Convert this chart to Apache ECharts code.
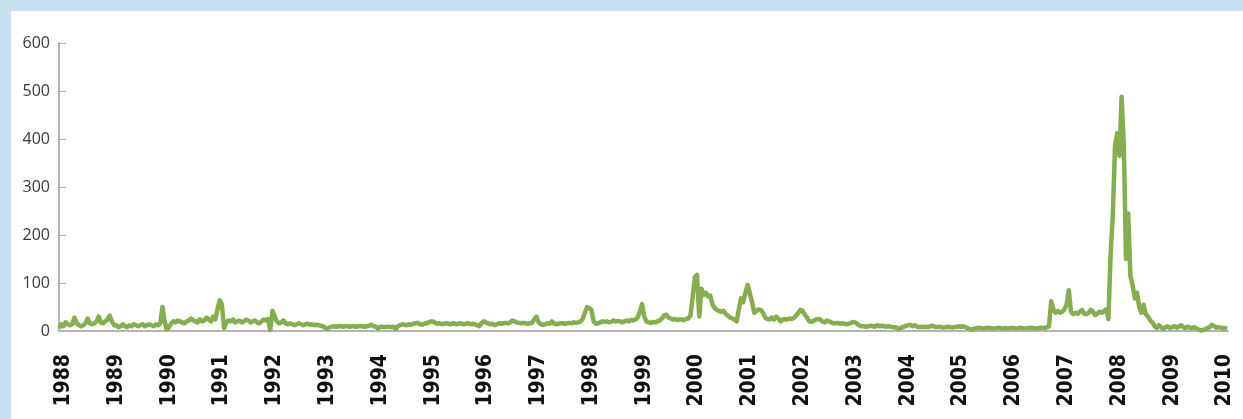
<!DOCTYPE html>
<html>
<head>
<meta charset="utf-8">
<script src="https://cdn.jsdelivr.net/npm/echarts@6/dist/echarts.min.js"></script>
<style>
  html, body { margin: 0; padding: 0; background: #c8e3ef; width: 1243px; height: 419px; overflow: hidden; }
  #chart { position: absolute; left: 11px; top: 11px; width: 1232px; height: 408px; background: #ffffff; }
</style>
</head>
<body>
<div id="chart"></div>
<script>
// semi-monthly readings (24 per year)
var v1987 = [6, 14];
var v1988 = [10, 18, 14, 12, 14, 28, 16, 12, 10, 12, 16, 26, 16, 14, 16, 20, 30, 18, 16, 20, 24, 32, 20, 12];
var v1989 = [12, 8, 10, 14, 10, 8, 12, 10, 14, 12, 10, 12, 14, 10, 12, 14, 12, 10, 14, 12, 16, 50, 20, 3];
var v1990 = [8, 16, 20, 18, 22, 20, 18, 16, 20, 22, 26, 22, 20, 18, 24, 20, 22, 28, 24, 20, 30, 24, 45, 64];
var v1991 = [55, 6, 18, 22, 20, 24, 18, 20, 22, 18, 20, 24, 22, 18, 20, 22, 18, 16, 20, 24, 22, 25, 2, 42];
var v1992 = [30, 20, 16, 18, 22, 16, 14, 16, 14, 12, 14, 16, 14, 12, 14, 15, 13, 14, 12, 13, 12, 11, 10, 6];
var v1993 = [5, 8, 9, 10, 9, 10, 10, 9, 10, 10, 9, 10, 10, 9, 10, 10, 10, 9, 10, 11, 13, 10, 9, 5];
var v1994 = [9, 9, 8, 9, 9, 8, 9, 4, 10, 12, 14, 13, 12, 14, 13, 15, 16, 17, 14, 13, 15, 16, 18, 20];
var v1995 = [20, 17, 15, 16, 14, 15, 16, 15, 14, 16, 15, 14, 16, 15, 14, 15, 16, 14, 15, 14, 12, 10, 16, 20];
var v1996 = [18, 16, 14, 15, 12, 14, 16, 15, 16, 17, 16, 18, 22, 20, 18, 17, 16, 17, 16, 15, 16, 17, 24, 30];
var v1997 = [18, 14, 13, 14, 16, 15, 20, 16, 14, 15, 16, 16, 15, 16, 17, 16, 18, 17, 18, 20, 25, 38, 50, 48];
var v1998 = [44, 20, 15, 16, 18, 20, 19, 20, 18, 19, 22, 20, 21, 20, 18, 20, 22, 20, 23, 22, 24, 28, 40, 56];
var v1999 = [30, 20, 18, 17, 19, 18, 20, 22, 26, 32, 34, 28, 26, 24, 25, 23, 24, 24, 23, 25, 26, 32, 70, 112];
var v2000 = [117, 30, 88, 75, 80, 72, 74, 55, 48, 44, 42, 40, 42, 36, 32, 28, 26, 24, 20, 45, 68, 60, 80, 96];
var v2001 = [78, 60, 38, 42, 45, 44, 38, 28, 25, 24, 28, 24, 30, 26, 20, 24, 25, 24, 26, 25, 27, 32, 38, 44];
var v2002 = [42, 34, 28, 20, 19, 21, 24, 25, 24, 20, 18, 22, 20, 18, 16, 16, 17, 15, 16, 15, 14, 15, 17, 19];
var v2003 = [18, 14, 11, 10, 10, 9, 10, 11, 10, 9, 12, 10, 11, 10, 9, 10, 9, 8, 8, 6, 5, 7, 9, 11];
var v2004 = [12, 13, 10, 12, 9, 8, 9, 8, 9, 8, 10, 11, 9, 8, 9, 8, 7, 8, 9, 8, 7, 8, 9, 10];
var v2005 = [9, 10, 8, 6, 4, 3, 5, 6, 7, 6, 5, 6, 7, 6, 6, 5, 6, 7, 6, 5, 6, 5, 6, 6];
var v2006 = [6, 5, 6, 7, 6, 5, 6, 6, 7, 6, 5, 6, 7, 7, 6, 8, 10, 62, 45, 38, 42, 38, 40, 45];
var v2007 = [55, 85, 40, 35, 38, 36, 40, 44, 36, 35, 38, 44, 40, 33, 36, 40, 38, 42, 45, 25, 160, 240, 385, 412];
var v2008 = [365, 488, 390, 150, 245, 115, 95, 68, 80, 50, 38, 55, 35, 30, 22, 18, 10, 6, 12, 8, 4, 8, 10, 6];
var v2009 = [8, 10, 7, 9, 12, 8, 6, 9, 7, 6, 8, 5, 3, 1, 2, 4, 6, 8, 13, 10, 7, 8, 7, 6];
var v2010 = [6, 5];

var yearLabels = [1988, 1989, 1990, 1991, 1992, 1993, 1994, 1995, 1996, 1997, 1998, 1999,
  2000, 2001, 2002, 2003, 2004, 2005, 2006, 2007, 2008, 2009, 2010];

var yearly = [
  [1987, v1987, 22], [1988, v1988, 0], [1989, v1989, 0], [1990, v1990, 0], [1991, v1991, 0],
  [1992, v1992, 0], [1993, v1993, 0], [1994, v1994, 0], [1995, v1995, 0], [1996, v1996, 0],
  [1997, v1997, 0], [1998, v1998, 0], [1999, v1999, 0], [2000, v2000, 0], [2001, v2001, 0],
  [2002, v2002, 0], [2003, v2003, 0], [2004, v2004, 0], [2005, v2005, 0], [2006, v2006, 0],
  [2007, v2007, 0], [2008, v2008, 0], [2009, v2009, 0], [2010, v2010, 0]
];

var points = [];
yearly.forEach(function (item) {
  item[1].forEach(function (v, i) {
    points.push([item[0] + (item[2] + i) / 24, v]);
  });
});

var chart = echarts.init(document.getElementById('chart'), null, { renderer: 'canvas' });

chart.setOption({
  backgroundColor: '#ffffff',
  animation: false,
  grid: { left: 48, right: 15, top: 32, bottom: 88 },
  xAxis: {
    type: 'value',
    min: 1987.915,
    max: 2010.057,
    axisLine: { show: true, lineStyle: { color: '#b4b4b4', width: 2 } },
    axisTick: { show: false },
    splitLine: { show: false },
    axisLabel: {
      customValues: yearLabels,
      rotate: 90,
      margin: 23,
      color: '#111111',
      fontFamily: '"DejaVu Sans Condensed", "DejaVu Sans", sans-serif',
      fontWeight: 'bold',
      fontSize: 21,
      formatter: function (v) { return String(Math.round(v)); }
    }
  },
  yAxis: {
    type: 'value',
    min: 0,
    max: 600,
    interval: 100,
    axisLine: { show: true, lineStyle: { color: '#b4b4b4', width: 2 } },
    axisTick: { show: true, inside: true, length: 7, lineStyle: { color: '#b4b4b4', width: 1 } },
    splitLine: { show: false },
    axisLabel: {
      margin: 9,
      color: '#3a3a3a',
      fontFamily: '"Open Sans", sans-serif',
      fontSize: 16
    }
  },
  series: [{
    type: 'line',
    data: points,
    showSymbol: false,
    smooth: false,
    lineStyle: { color: '#86ad4e', width: 4.5, join: 'round' },
    itemStyle: { color: '#86ad4e' }
  }]
});
</script>
</body>
</html>
